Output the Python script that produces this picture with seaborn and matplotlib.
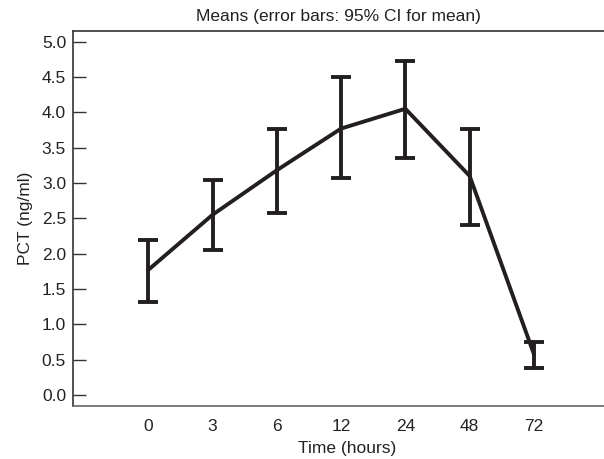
import numpy as np
import pandas as pd
import seaborn as sns
import matplotlib.pyplot as plt

sns.set_style("white")
plt.rcParams['font.family'] = ['Liberation Sans', 'DejaVu Sans']

# values
hours = ["0", "3", "6", "12", "24", "48", "72"]
pct_mean = [1.77, 2.55, 3.18, 3.77, 4.05, 3.10, 0.58]
ci_lower = [1.32, 2.05, 2.58, 3.07, 3.35, 2.41, 0.39]
ci_upper = [2.20, 3.04, 3.77, 4.50, 4.73, 3.76, 0.75]

ink = "#231f20"
txt = "#222222"

df = pd.DataFrame({"Time (hours)": hours, "PCT (ng/ml)": pct_mean})

fig = plt.figure(figsize=(6.04, 4.59), dpi=100)
ax = fig.add_axes([73 / 604, 1 - 405.7 / 459, 1 - 73 / 604, (405.7 - 31) / 459])

sns.lineplot(
    data=df,
    x="Time (hours)",
    y="PCT (ng/ml)",
    sort=False,
    color=ink,
    linewidth=2.8,
    ax=ax,
)

pos = np.arange(len(hours))
mean = np.array(pct_mean)
yerr = np.vstack([mean - np.array(ci_lower), np.array(ci_upper) - mean])
ax.errorbar(
    pos,
    mean,
    yerr=yerr,
    fmt="none",
    ecolor=ink,
    elinewidth=2.8,
    capsize=7.5,
    capthick=2.8,
)

ax.set_xlim(-1.17, 7.09)
ax.set_ylim(-0.15, 5.15)
yt = np.arange(0, 5.01, 0.5)
ax.set_yticks(yt)
ax.set_yticklabels([f"{v:.1f}" for v in yt])
ax.set_xticks(pos)
ax.set_xticklabels(hours)

ax.tick_params(axis="y", left=True, direction="in", length=9, width=1,
               color="#333333", labelsize=12.5, pad=5, labelcolor=txt)
ax.tick_params(axis="x", bottom=False, length=0, labelsize=12.5, pad=9.5,
               labelcolor=txt)

ax.set_xlabel("Time (hours)", fontsize=12.5, color=txt)
ax.xaxis.set_label_coords(0.516, -0.095)
ax.set_ylabel("PCT (ng/ml)", fontsize=12.5, color=txt, labelpad=6)
ax.set_title("Means (error bars: 95% CI for mean)", fontsize=12.5,
             color=txt, pad=7)

ax.spines["right"].set_visible(False)
ax.spines["left"].set_color("#333333")
ax.spines["top"].set_color("#333333")
ax.spines["bottom"].set_color("#666666")
for side in ["left", "top", "bottom"]:
    ax.spines[side].set_linewidth(1.2)

fig.savefig("out.png", dpi=100)
